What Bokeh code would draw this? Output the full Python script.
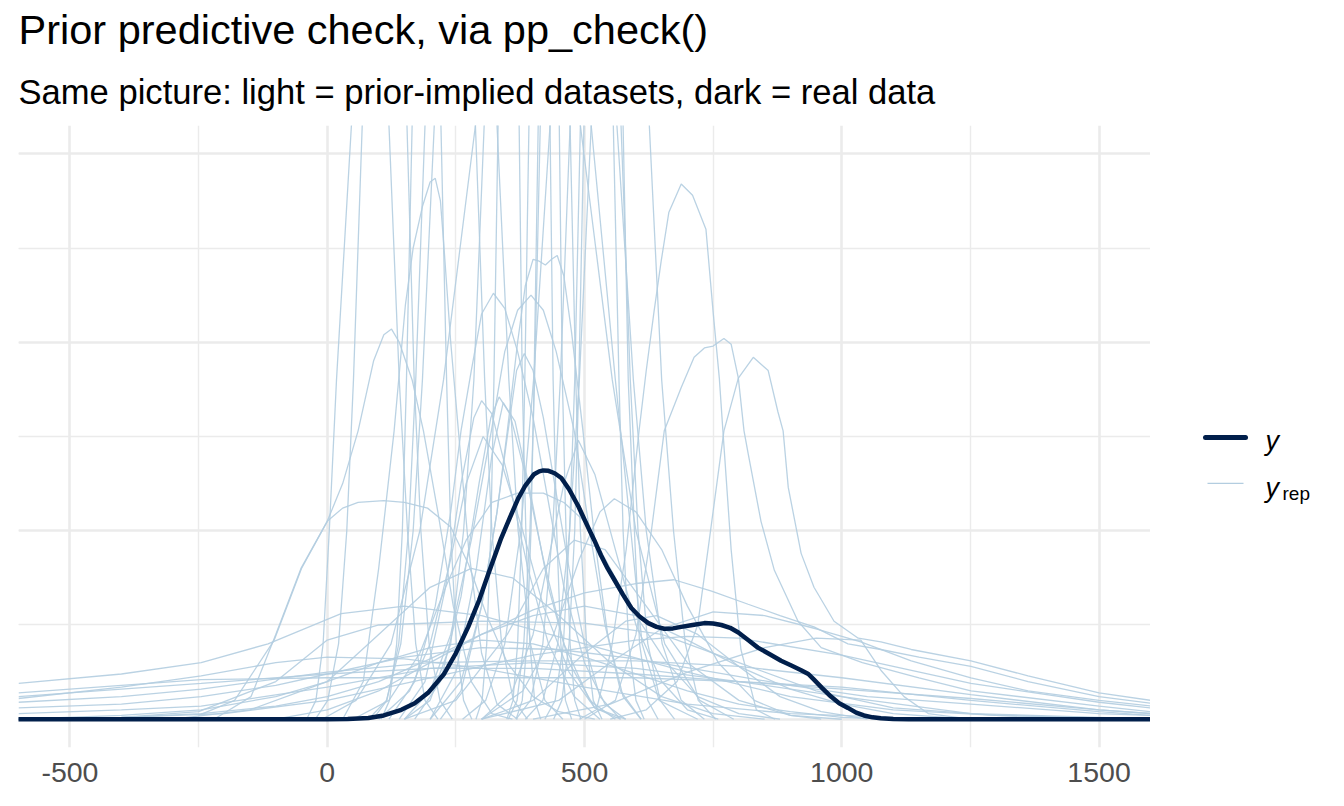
from bokeh.plotting import figure
from bokeh.models import FixedTicker, Grid, Range1d, ColumnDataSource, Title
from bokeh.layouts import row
from bokeh.embed import file_html
from bokeh.resources import INLINE
from bokeh.core.properties import value

TITLE = "Prior predictive check, via pp_check()"
SUBTITLE = "Same picture: light = prior-implied datasets, dark = real data"
X_TICKS = [-500, 0, 500, 1000, 1500]
X_MINOR = [-250, 250, 750, 1250]
Y_TICKS = [0, 1, 2, 3]
Y_MINOR = [0.5, 1.5, 2.5]

y_obs_x = [-600, 0, 40, 80, 110, 144, 170, 196, 227, 250, 274, 295, 313, 338, 355, 371, 385, 402, 412,
           420, 430, 442, 455, 470, 488, 505, 519, 532, 545, 558, 575, 591, 607, 624, 640, 655, 672,
           688, 710, 733, 750, 766, 783, 799, 818, 837, 860, 882, 902, 921, 935, 946, 962, 979, 995,
           1012, 1028, 1043, 1060, 1076, 1100, 1130, 1600]
y_obs_y = [0, 0, 0.001, 0.007, 0.02, 0.05, 0.085, 0.14, 0.24, 0.35, 0.49, 0.63, 0.77, 0.96, 1.07, 1.17,
           1.24, 1.30, 1.315, 1.32, 1.318, 1.305, 1.28, 1.22, 1.13, 1.03, 0.95, 0.87, 0.80, 0.74, 0.66,
           0.59, 0.545, 0.51, 0.49, 0.48, 0.482, 0.49, 0.50, 0.51, 0.508, 0.50, 0.485, 0.46, 0.42, 0.38,
           0.345, 0.31, 0.285, 0.26, 0.24, 0.21, 0.165, 0.12, 0.085, 0.06, 0.035, 0.02, 0.01, 0.005,
           0.001, 0, 0]

# tall replicated densities running off the top: x where each flank crosses these heights
TALL_LEVELS = [0, 0.1, 0.4, 1.0, 1.8, 3.15]
tall_left = [
    [-40, -22, -8, 4, 18, 47], [-23, 1, 22, 38, 51, 68], [105, 121, 135, 146, 154, 165],
    [89, 116, 139, 158, 172, 190], [80, 115, 143, 167, 185, 208], [289, 301, 310, 318, 324, 332],
    [349, 361, 370, 378, 384, 392], [367, 379, 388, 396, 402, 410], [352, 369, 382, 394, 403, 414],
    [-10, 56, 124, 180, 226, 288], [440, 456, 470, 481, 489, 499], [263, 308, 345, 376, 401, 433],
    [367, 395, 419, 438, 453, 472], [423, 443, 459, 471, 481, 492], [385, 419, 448, 471, 490, 513],
    [150, 200, 240, 265, 285, 305],
]
tall_apex_x = [84, 111, 193, 239, 270, 352, 412, 430, 443, 390, 528, 498, 521, 533, 570, 410]
tall_apex_y = [5.8, 6.5, 7.0, 5.5, 4.6, 9.0, 8.5, 7.5, 7.0, 4.5, 7.0, 5.0, 6.0, 8.0, 5.5, 3.8]
tall_right = [  # from the top crossing down to the foot
    [120, 140, 156, 172, 190, 215], [155, 169, 182, 198, 219, 243], [221, 232, 240, 251, 265, 281],
    [288, 306, 320, 339, 362, 389], [330, 353, 371, 395, 423, 458], [373, 379, 386, 394, 403, 415],
    [433, 439, 446, 454, 463, 475], [451, 457, 464, 472, 481, 493], [472, 483, 492, 504, 517, 534],
    [492, 554, 600, 656, 724, 790], [556, 567, 575, 586, 600, 616], [563, 595, 620, 651, 688, 733],
    [571, 589, 604, 623, 647, 675], [575, 585, 597, 607, 623, 643], [626, 650, 673, 696, 721, 755],
    [513, 560, 590, 612, 645, 720],
]

# other replicated densities (x, y)
rep_x = [
    [30, 70, 100, 130, 152, 167, 185, 200, 210, 220, 227, 240, 255, 275, 300, 330, 370],
    [-220, -148, -100, -51, 0, 30, 60, 90, 110, 125, 140, 165, 187, 215, 245, 280, 320, 360],
    [120, 170, 210, 240, 260, 280, 300, 323, 345, 370, 400, 430, 460, 500, 540, 580],
    [200, 260, 300, 330, 350, 370, 385, 400, 412, 424, 436, 447, 460, 475, 497, 520, 545, 575, 610],
    [150, 200, 240, 280, 319, 345, 370, 396, 420, 445, 480, 510, 540, 570, 610],
    [220, 260, 300, 330, 350, 368, 383, 400, 420, 445, 470, 500, 530, 570],
    [140, 190, 230, 260, 285, 300, 320, 350, 390, 430, 480, 530],
    [170, 220, 260, 295, 318, 334, 355, 385, 420, 460, 510, 560],
    [200, 250, 290, 320, 342, 365, 395, 430, 470, 520, 570],
    [490, 523, 552, 581, 606, 620, 635, 649, 664, 688, 710, 736, 750, 762, 769, 785, 804, 834, 870],
    [500, 560, 600, 630, 655, 688, 713, 733, 750, 771, 785, 799, 810, 818, 843, 869, 915, 960, 1040,
     1150, 1251, 1500, 1600],
    [550, 620, 680, 720, 740, 771, 799, 828, 857, 876, 886, 896, 921, 946, 985, 1032, 1076, 1135, 1251,
     1362, 1500, 1601],
    [-250, -180, -103, -50, 0, 30, 60, 110, 150, 195, 240, 275, 310, 350, 400, 450, 520],
    [50, 120, 180, 230, 270, 320, 370, 420, 460, 500, 540, 600, 660, 720, 800, 880],
    [-100, 0, 100, 200, 300, 400, 500, 600, 674, 747, 818, 880, 946, 1012, 1076, 1150, 1251, 1362, 1500, 1601],
    [-600, -400, -245, -115, 27, 150, 300, 500, 700, 900, 1100, 1300, 1600],
    [-600, -400, -245, 0, 200, 400, 600, 800, 1000, 1251, 1500, 1601],
    [-600, -400, -245, 0, 200, 400, 600, 800, 1000, 1251, 1500, 1601],
    [-600, -400, -245, 0, 200, 400, 600, 800, 1000, 1251, 1500, 1601],
    [-600, -400, -200, 0, 200, 400, 600, 700, 800, 1000, 1251, 1500, 1601],
    [-600, -400, -245, 0, 200, 400, 600, 800, 1000, 1251, 1500, 1601],
    [-600, -400, -250, -100, 0, 100, 300, 500, 650, 800, 950, 1100, 1300, 1600],
    [-300, -150, 0, 100, 200, 280, 360, 450, 550, 650, 750, 850],
    [150, 250, 350, 420, 480, 540, 620, 700, 800, 900, 1000],
    [300, 450, 550, 650, 750, 850, 950, 1037, 1135, 1251, 1362, 1500, 1601],
    [300, 400, 500, 580, 640, 720, 800, 880, 960, 1050],
    [400, 550, 700, 850, 950, 1037, 1076, 1121, 1168, 1250],
    [-600, -400, -245, -100, 0, 100, 200, 300, 400, 500, 600, 700, 800, 900, 1000, 1100],
    [-600, -400, -245, -100, 0, 100, 200, 300, 400, 500, 600, 700, 800, 900, 1000, 1100, 1250],
    [-600, -400, -245, -100, 0, 150, 300, 450, 600, 750, 900, 1050, 1251, 1500, 1601],
    [-600, -400, -245, -100, 0, 150, 300, 500, 700, 900, 1100, 1300],
    [100, 160, 200, 240, 270, 303, 340, 380, 420, 470, 520, 580],
    [300, 360, 400, 430, 460, 488, 520, 560, 600, 650, 700, 760],
    [300, 380, 440, 490, 530, 558, 600, 650, 700, 760, 830, 900, 960],
]
rep_y = [
    [0, 0.2, 0.8, 1.53, 2.2, 2.5, 2.72, 2.85, 2.87, 2.75, 2.5, 2.0, 1.53, 0.9, 0.35, 0.08, 0],
    [0, 0.12, 0.45, 0.8, 1.05, 1.25, 1.53, 1.9, 2.04, 2.07, 2.0, 1.8, 1.53, 1.1, 0.6, 0.2, 0.03, 0],
    [0, 0.2, 0.6, 1.1, 1.53, 1.85, 2.15, 2.26, 2.18, 1.95, 1.6, 1.15, 0.7, 0.3, 0.08, 0],
    [0, 0.2, 0.6, 1.1, 1.53, 2.0, 2.3, 2.44, 2.43, 2.41, 2.44, 2.46, 2.35, 2.05, 1.53, 0.95, 0.45, 0.12, 0],
    [0, 0.15, 0.45, 0.95, 1.53, 1.95, 2.17, 2.25, 2.17, 1.95, 1.53, 1.0, 0.5, 0.15, 0],
    [0, 0.15, 0.6, 1.1, 1.5, 1.85, 1.94, 1.85, 1.6, 1.2, 0.8, 0.4, 0.12, 0],
    [0, 0.2, 0.7, 1.25, 1.6, 1.69, 1.62, 1.3, 0.8, 0.4, 0.12, 0],
    [0, 0.2, 0.65, 1.25, 1.6, 1.71, 1.62, 1.3, 0.85, 0.4, 0.1, 0],
    [0, 0.25, 0.8, 1.4, 1.68, 1.58, 1.2, 0.7, 0.3, 0.06, 0],
    [0, 0.05, 0.37, 0.9, 1.53, 1.85, 2.16, 2.43, 2.69, 2.84, 2.78, 2.6, 2.16, 1.81, 1.53, 0.9, 0.37, 0.05, 0],
    [0, 0.1, 0.45, 1.0, 1.53, 1.76, 1.92, 1.97, 1.98, 2.02, 1.99, 1.81, 1.53, 1.41, 1.05, 0.79, 0.52, 0.38,
     0.3, 0.22, 0.15, 0.07, 0.04],
    [0, 0.05, 0.2, 0.5, 0.9, 1.53, 1.81, 1.92, 1.85, 1.63, 1.53, 1.23, 0.88, 0.70, 0.52, 0.43, 0.41, 0.37,
     0.31, 0.23, 0.14, 0.10],
    [0.02, 0.1, 0.42, 0.8, 1.05, 1.12, 1.15, 1.16, 1.15, 1.12, 1.02, 0.82, 0.55, 0.3, 0.12, 0.04, 0],
    [0, 0.1, 0.35, 0.7, 0.95, 1.15, 1.2, 1.2, 1.15, 1.05, 0.85, 0.55, 0.3, 0.12, 0.03, 0],
    [0, 0.05, 0.15, 0.3, 0.45, 0.58, 0.67, 0.72, 0.74, 0.68, 0.61, 0.55, 0.49, 0.40, 0.37, 0.33, 0.28, 0.2,
     0.12, 0.085],
    [0.19, 0.24, 0.30, 0.40, 0.56, 0.6, 0.55, 0.4, 0.25, 0.12, 0.05, 0.02, 0.0],
    [0.12, 0.16, 0.19, 0.24, 0.27, 0.27, 0.24, 0.2, 0.16, 0.11, 0.05, 0.03],
    [0.09, 0.12, 0.16, 0.25, 0.3, 0.31, 0.31, 0.28, 0.22, 0.13, 0.05, 0.03],
    [0.03, 0.05, 0.07, 0.17, 0.27, 0.3, 0.27, 0.2, 0.12, 0.03, 0.01, 0.0],
    [0.0, 0.01, 0.03, 0.1, 0.22, 0.34, 0.42, 0.44, 0.43, 0.34, 0.19, 0.09, 0.06],
    [0.14, 0.18, 0.21, 0.22, 0.22, 0.22, 0.22, 0.2, 0.17, 0.1, 0.04, 0.02],
    [0.0, 0.01, 0.04, 0.2, 0.42, 0.5, 0.52, 0.51, 0.45, 0.3, 0.15, 0.06, 0.02, 0.0],
    [0, 0.05, 0.2, 0.45, 0.7, 0.8, 0.75, 0.55, 0.3, 0.12, 0.03, 0],
    [0, 0.1, 0.45, 0.8, 0.95, 0.9, 0.6, 0.3, 0.1, 0.02, 0],
    [0, 0.1, 0.3, 0.48, 0.57, 0.55, 0.48, 0.41, 0.31, 0.22, 0.15, 0.10, 0.07],
    [0, 0.1, 0.35, 0.52, 0.55, 0.45, 0.28, 0.12, 0.04, 0],
    [0, 0.08, 0.25, 0.38, 0.43, 0.42, 0.26, 0.12, 0.03, 0],
    [0.0, 0.02, 0.05, 0.12, 0.2, 0.3, 0.38, 0.42, 0.4, 0.33, 0.24, 0.15, 0.08, 0.04, 0.01, 0],
    [0, 0.01, 0.03, 0.07, 0.12, 0.2, 0.32, 0.45, 0.55, 0.6, 0.55, 0.42, 0.28, 0.16, 0.08, 0.03, 0],
    [0.06, 0.08, 0.12, 0.18, 0.24, 0.33, 0.38, 0.37, 0.32, 0.25, 0.18, 0.12, 0.08, 0.03, 0.02],
    [0.11, 0.17, 0.23, 0.3, 0.33, 0.32, 0.27, 0.17, 0.08, 0.03, 0.01, 0],
    [0, 0.15, 0.4, 0.85, 1.25, 1.5, 1.35, 1.0, 0.6, 0.25, 0.06, 0],
    [0, 0.15, 0.45, 0.85, 1.25, 1.48, 1.3, 0.9, 0.5, 0.2, 0.05, 0],
    [0, 0.15, 0.45, 0.85, 1.1, 1.17, 1.1, 0.9, 0.6, 0.3, 0.1, 0.02, 0],
]

LIGHT = "#b3cde0"
DARK = "#011f4b"
FONT = "Liberation Sans"

# assemble all replicated curves
all_x = []
all_y = []
for lx, axx, ayy, rx in zip(tall_left, tall_apex_x, tall_apex_y, tall_right):
    all_x.append(list(lx) + [axx] + list(rx))
    all_y.append(list(TALL_LEVELS) + [ayy] + list(reversed(TALL_LEVELS)))
for xs, ys in zip(rep_x, rep_y):
    all_x.append(xs)
    all_y.append(ys)

# ---------- main panel ----------
p = figure(width=1150, height=795, x_range=Range1d(-600, 1600), y_range=Range1d(-0.15, 3.15),
           toolbar_location=None, output_backend="svg", title=None, y_axis_location=None,
           min_border_left=18, min_border_right=0, min_border_top=123, min_border_bottom=48,
           outline_line_color=None)
p.add_layout(Title(text=SUBTITLE, text_font=FONT, text_font_size="34.6px", text_font_style="normal",
                   text_color="black", align="left", standoff=30, offset=0), "above")
p.add_layout(Title(text=TITLE, text_font=FONT, text_font_size="41.5px", text_font_style="normal",
                   text_color="black", align="left", standoff=6, offset=0), "above")

xt = FixedTicker(ticks=X_TICKS, minor_ticks=X_MINOR)
p.xaxis.ticker = xt
p.xgrid.ticker = xt
p.xgrid.grid_line_color = "#ebebeb"
p.xgrid.grid_line_width = 2.6
p.xgrid.minor_grid_line_color = "#ebebeb"
p.xgrid.minor_grid_line_width = 1.4
ygrid = Grid(dimension=1, ticker=FixedTicker(ticks=Y_TICKS, minor_ticks=Y_MINOR),
             grid_line_color="#ebebeb", grid_line_width=2.6,
             minor_grid_line_color="#ebebeb", minor_grid_line_width=1.4)
p.add_layout(ygrid)
ax = p.xaxis[0]
ax.axis_line_color = None
ax.major_tick_line_color = None
ax.minor_tick_line_color = None
ax.major_tick_out = 0
ax.major_tick_in = 0
ax.minor_tick_out = 0
ax.minor_tick_in = 0
ax.major_label_standoff = 15
ax.major_label_text_font = FONT
ax.major_label_text_font_size = "28.5px"
ax.major_label_text_color = "#4d4d4d"
ax.major_label_overrides = {t: str(t) for t in X_TICKS}

src = ColumnDataSource(data=dict(xs=all_x, ys=all_y))
p.multi_line(xs="xs", ys="ys", source=src, line_color=LIGHT, line_width=1.3, line_alpha=0.9)
p.line(y_obs_x, y_obs_y, line_color=DARK, line_width=4.5, line_join="round", line_cap="round")

# ---------- legend strip (frame aligned with the main panel frame) ----------
lf = figure(width=178, height=795, x_range=Range1d(0, 178), y_range=Range1d(0, 624),
            toolbar_location=None, output_backend="svg", title=None,
            x_axis_location=None, y_axis_location=None,
            min_border_left=0, min_border_right=0, min_border_top=123, min_border_bottom=48,
            outline_line_color=None)
lf.xgrid.visible = False
lf.ygrid.visible = False
lf.line([55, 95], [311, 311], line_color=DARK, line_width=5, line_cap="round")
lf.line([57, 93], [265, 265], line_color=LIGHT, line_width=1.3)
lf.text(x=[115], y=[307], text=["y"], text_font=value(FONT), text_font_size="27px",
        text_font_style="italic", text_color="black", text_baseline="alphabetic")
lf.text(x=[115], y=[260], text=["y"], text_font=value(FONT), text_font_size="27px",
        text_font_style="italic", text_color="black", text_baseline="alphabetic")
lf.text(x=[132], y=[255], text=["rep"], text_font=value(FONT), text_font_size="19px",
        text_color="black", text_baseline="alphabetic")

layout = row(p, lf)
open("out.html", "w").write(file_html(layout, INLINE))
